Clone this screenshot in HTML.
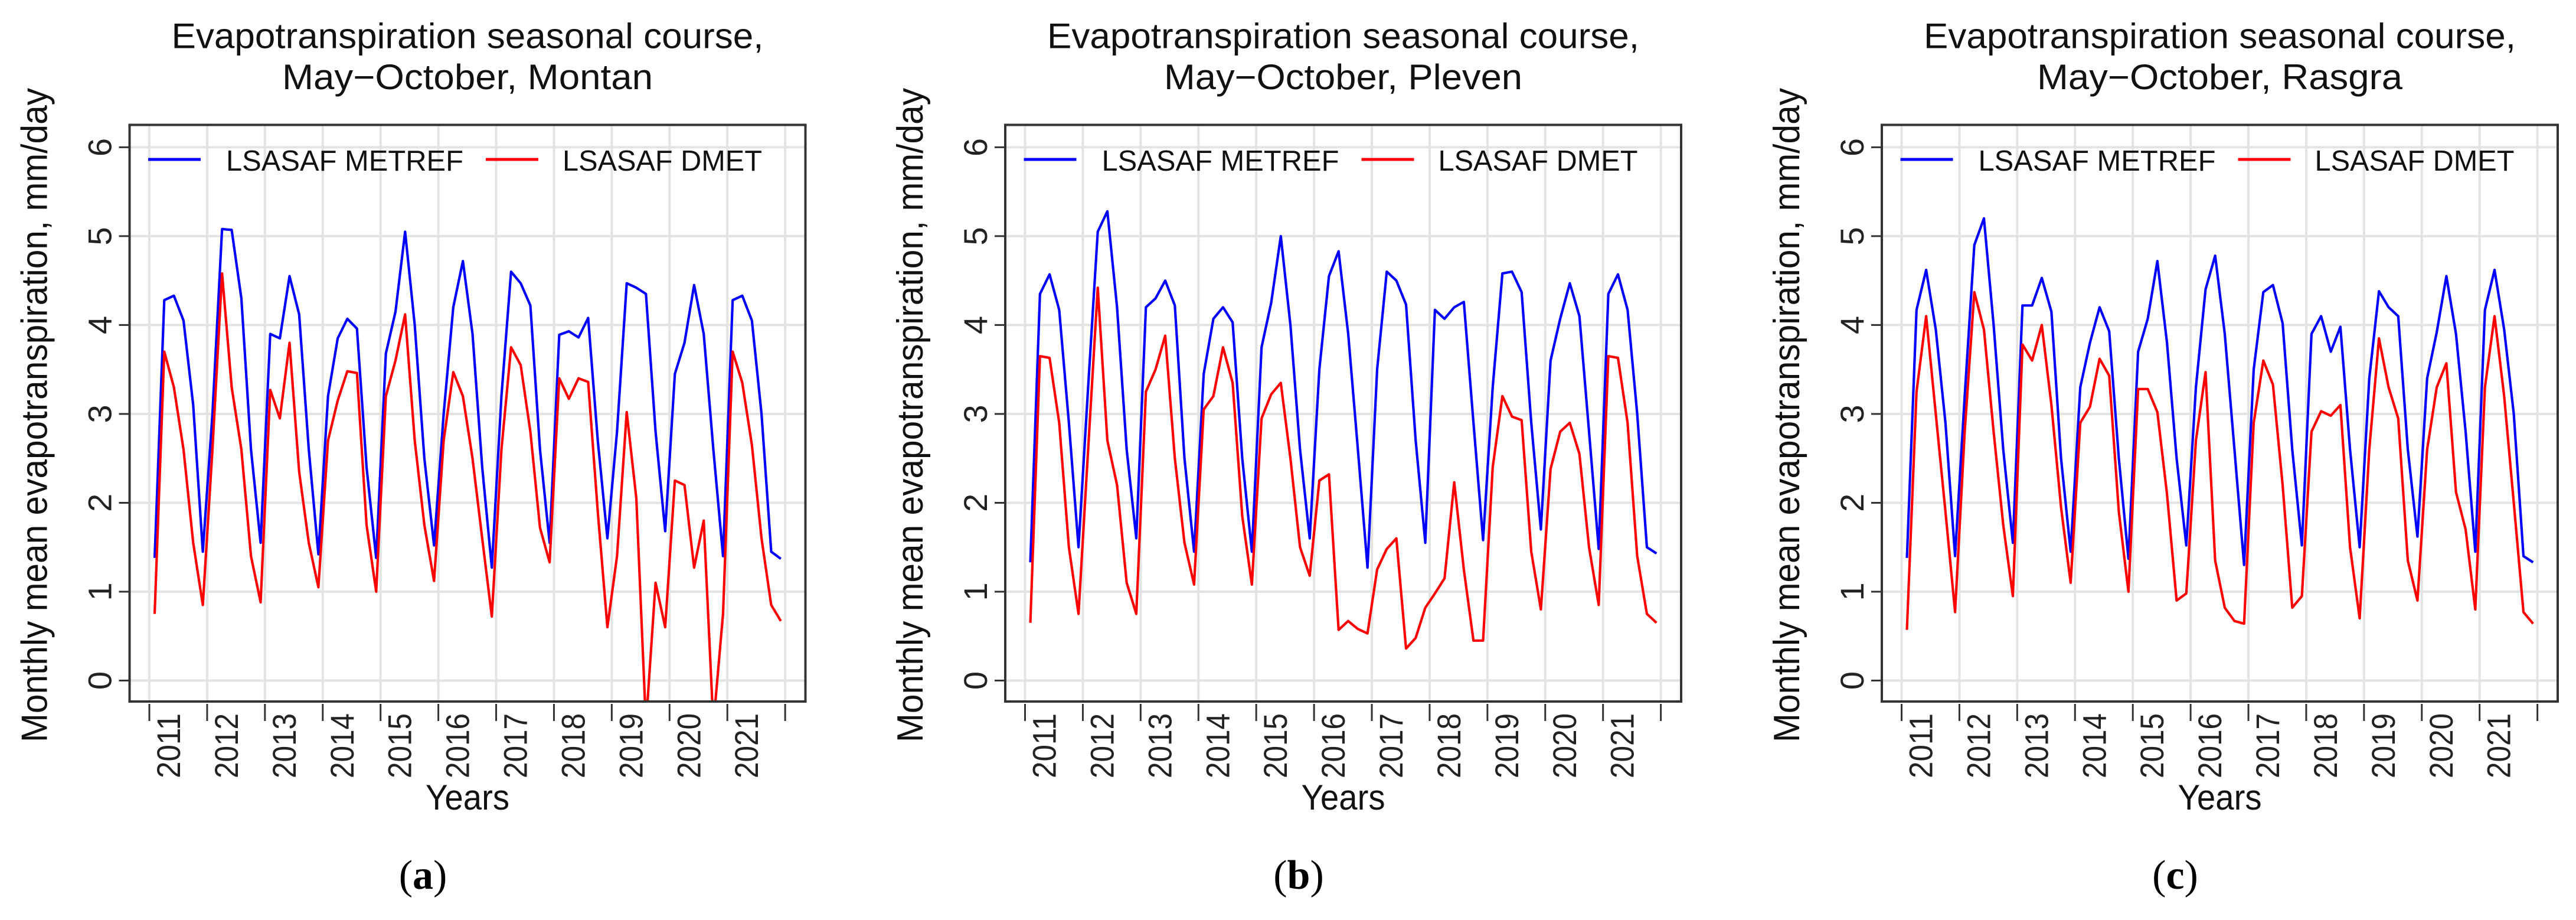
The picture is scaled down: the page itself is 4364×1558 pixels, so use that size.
<!DOCTYPE html>
<html><head><meta charset="utf-8"><style>
html,body{margin:0;padding:0;background:#fff;}
svg{display:block;font-family:"Liberation Sans",sans-serif;}
</style></head><body>
<svg id="fig" width="4364" height="1558" viewBox="0 0 4364 1558" xmlns="http://www.w3.org/2000/svg"></svg>
<script>
const years = ["2011","2012","2013","2014","2015","2016","2017","2018","2019","2020","2021"];
const yTicks = [0,1,2,3,4,5,6];
const stations = ["Montan","Pleven","Rasgra"];
const captions = ["a","b","c"];
const metrefA = [1.38,4.28,4.33,4.05,3.1,1.45, 3.0,5.08,5.07,4.3,2.6,1.55, 3.9,3.85,4.55,4.12,2.6,1.42, 3.2,3.85,4.07,3.96,2.4,1.38, 3.68,4.15,5.05,4.0,2.5,1.52, 3.0,4.2,4.72,3.9,2.4,1.27, 3.2,4.6,4.47,4.22,2.6,1.55, 3.89,3.93,3.86,4.08,2.7,1.6, 2.8,4.47,4.42,4.35,2.8,1.68, 3.45,3.8,4.45,3.9,2.6,1.4, 4.28,4.33,4.05,3.0,1.45,1.37];
const dmetA = [0.75,3.7,3.3,2.6,1.55,0.85, 2.6,4.58,3.3,2.6,1.4,0.88, 3.27,2.95,3.8,2.35,1.55,1.05, 2.7,3.15,3.48,3.46,1.75,1.0, 3.2,3.6,4.12,2.7,1.75,1.12, 2.7,3.47,3.2,2.5,1.6,0.72, 2.6,3.75,3.55,2.8,1.72,1.33, 3.4,3.17,3.4,3.36,1.9,0.6, 1.4,3.02,2.05,-0.5,1.1,0.6, 2.25,2.2,1.27,1.8,-0.5,0.75, 3.7,3.35,2.65,1.6,0.85,0.67];
const metrefB = [1.33,4.35,4.57,4.17,2.9,1.5, 3.3,5.05,5.28,4.2,2.6,1.6, 4.2,4.3,4.5,4.22,2.5,1.45, 3.45,4.07,4.2,4.03,2.5,1.45, 3.75,4.25,5.0,4.0,2.6,1.6, 3.5,4.55,4.83,3.9,2.6,1.27, 3.5,4.6,4.5,4.23,2.7,1.55, 4.17,4.07,4.2,4.26,2.9,1.58, 3.3,4.58,4.6,4.37,2.9,1.7, 3.6,4.07,4.47,4.1,2.8,1.48, 4.35,4.57,4.17,3.0,1.5,1.43];
const dmetB = [0.65,3.65,3.63,2.9,1.5,0.75, 2.6,4.42,2.7,2.2,1.1,0.75, 3.25,3.5,3.88,2.5,1.55,1.08, 3.05,3.2,3.75,3.35,1.85,1.08, 2.95,3.22,3.35,2.5,1.5,1.18, 2.25,2.32,0.57,0.67,0.58,0.53, 1.25,1.48,1.6,0.36,0.48,0.82, 0.98,1.15,2.23,1.25,0.45,0.45, 2.4,3.2,2.97,2.93,1.45,0.8, 2.38,2.8,2.9,2.55,1.5,0.85, 3.65,3.63,2.9,1.4,0.75,0.65];
const metrefC = [1.38,4.17,4.62,3.95,2.9,1.4, 3.2,4.9,5.2,4.0,2.6,1.55, 4.22,4.22,4.53,4.15,2.5,1.45, 3.3,3.8,4.2,3.93,2.5,1.37, 3.7,4.07,4.72,3.8,2.5,1.52, 3.3,4.4,4.78,3.9,2.6,1.3, 3.5,4.37,4.45,4.02,2.6,1.52, 3.9,4.1,3.7,3.98,2.6,1.5, 3.4,4.38,4.2,4.1,2.6,1.62, 3.4,3.92,4.55,3.9,2.8,1.45, 4.17,4.62,3.95,3.0,1.4,1.33];
const dmetC = [0.57,3.25,4.1,3.0,1.9,0.77, 2.8,4.37,3.95,2.8,1.75,0.95, 3.78,3.6,4.0,3.1,1.95,1.1, 2.9,3.08,3.62,3.43,1.9,1.0, 3.28,3.28,3.02,2.1,0.9,0.98, 2.7,3.47,1.35,0.82,0.67,0.64, 2.9,3.6,3.33,2.2,0.82,0.95, 2.8,3.03,2.98,3.1,1.5,0.7, 2.6,3.85,3.3,2.95,1.35,0.9, 2.6,3.3,3.57,2.12,1.7,0.8, 3.3,4.1,3.2,2.0,0.77,0.64];
const metrefSeries = [metrefA, metrefB, metrefC];
const dmetSeries = [dmetA, dmetB, dmetC];

const NS = "http://www.w3.org/2000/svg";
const svg = document.getElementById("fig");
function mk(tag, attrs, parent, text) {
  const e = document.createElementNS(NS, tag);
  for (const k in attrs) e.setAttribute(k, attrs[k]);
  if (text !== undefined) e.textContent = text;
  (parent || svg).appendChild(e);
  return e;
}
const panelLefts = [219.5, 1703, 3188];
const line2Len = [628, 607, 619];
const W = 1145, TOP = 211.5, BOT = 1188;
const Y0 = 1152.5, Y6 = 249.4;
function yScale(v) { return Y0 - (v / 6) * (Y0 - Y6); }
const step = 16.32;

panelLefts.forEach((L, p) => {
  const g = mk("g", {});
  
  
  const tickStart = L + 33.5;
  function xIdx(i) { return tickStart + (i + 0.55) * step; }
  function xTick(k) { return tickStart + k * 6 * step; }
  const cx = L + W / 2;

  const t1 = mk("text", {x: cx, y: 81.5, "text-anchor": "middle", "font-size": 60, fill: "#111",
    textLength: 1003, lengthAdjust: "spacingAndGlyphs"}, g, "Evapotranspiration seasonal course,");
  
  
  const t2 = mk("text", {x: cx, y: 151, "text-anchor": "middle", "font-size": 60, fill: "#111",
    textLength: line2Len[p], lengthAdjust: "spacingAndGlyphs"}, g, "May\u2212October, " + stations[p]);
  
  

  const cp = mk("clipPath", {id: "clip" + p}, g);
  mk("rect", {x: L, y: TOP, width: W, height: BOT - TOP}, cp);

  const grid = mk("g", {stroke: "#e3e3e3", "stroke-width": 4}, g);
  
  
  yTicks.forEach(v => mk("line", {x1: L, x2: L + W, y1: yScale(v), y2: yScale(v)}, grid));
  for (let k = 0; k <= years.length; k++) mk("line", {x1: xTick(k), x2: xTick(k), y1: TOP, y2: BOT}, grid);

  yTicks.forEach(v => {
    const y = yScale(v);
    mk("line", {x1: L - 18, x2: L, y1: y, y2: y, stroke: "#333", "stroke-width": 3}, g);
    const lb = mk("text", {x: 0, y: 0, "font-size": 56, "text-anchor": "middle", fill: "#222",
      transform: "translate(" + (L - 31) + "," + y + ") rotate(-90)"}, g, String(v));
    
    
  });
  for (let k = 0; k <= years.length; k++) {
    const x = xTick(k);
    mk("line", {x1: x, x2: x, y1: BOT + 4, y2: BOT + 33, stroke: "#333", "stroke-width": 3}, g);
    if (k < years.length) {
      const lb = mk("text", {x: 0, y: 0, "font-size": 56, "text-anchor": "end", fill: "#222",
        textLength: 110, lengthAdjust: "spacingAndGlyphs",
        transform: "translate(" + (x + 52) + "," + 1208 + ") rotate(-90)"}, g, years[k]);
      
      
    }
  }

  const lines = mk("g", {"clip-path": "url(#clip" + p + ")", fill: "none", "stroke-width": 4.2, "stroke-linejoin": "round"}, g);
  const mPts = metrefSeries[p].map((v, i) => xIdx(i).toFixed(1) + "," + yScale(v).toFixed(1)).join(" ");
  const dPts = dmetSeries[p].map((v, i) => xIdx(i).toFixed(1) + "," + yScale(v).toFixed(1)).join(" ");
  const lm = mk("polyline", {points: mPts, stroke: "#0000ff"}, lines);
  
  
  const ld = mk("polyline", {points: dPts, stroke: "#ff0000"}, lines);
  
  

  const lg = mk("g", {}, g);
  
  
  mk("line", {x1: L + 31.5, x2: L + 120.5, y1: 270, y2: 270, stroke: "#0000ff", "stroke-width": 5}, lg);
  mk("text", {x: L + 163.5, y: 289, "font-size": 49, fill: "#111", textLength: 402, lengthAdjust: "spacingAndGlyphs"}, lg, "LSASAF METREF");
  mk("line", {x1: L + 603.5, x2: L + 692.5, y1: 270, y2: 270, stroke: "#ff0000", "stroke-width": 5}, lg);
  mk("text", {x: L + 733.5, y: 289, "font-size": 49, fill: "#111", textLength: 338, lengthAdjust: "spacingAndGlyphs"}, lg, "LSASAF DMET");

  const fr = mk("rect", {x: L, y: TOP, width: W, height: BOT - TOP, fill: "none", stroke: "#333", "stroke-width": 4}, g);
  
  

  const yl = mk("text", {x: 0, y: 0, "font-size": 62, "text-anchor": "middle", fill: "#111",
    textLength: 1108, lengthAdjust: "spacingAndGlyphs",
    transform: "translate(" + (L - 140) + ",703) rotate(-90)"}, g, "Monthly mean evapotranspiration, mm/day");
  
  
  const xl = mk("text", {x: cx, y: 1371, "font-size": 60, "text-anchor": "middle", fill: "#111",
    textLength: 142, lengthAdjust: "spacingAndGlyphs"}, g, "Years");
  
  

  const cap = mk("text", {x: L + 497, y: 1505, "font-size": 70, "text-anchor": "middle", fill: "#000",
    "font-family": "Liberation Serif, serif"}, g);
  
  
  mk("tspan", {}, cap, "(");
  mk("tspan", {"font-weight": "bold"}, cap, captions[p]);
  mk("tspan", {}, cap, ")");
});
</script>
</body></html>
